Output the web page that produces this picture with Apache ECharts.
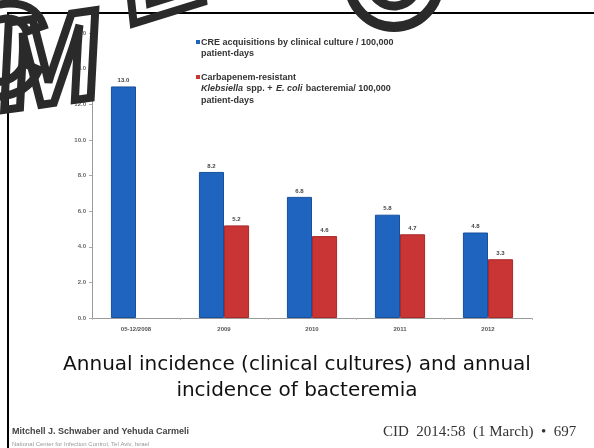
<!DOCTYPE html>
<html>
<head>
<meta charset="utf-8">
<style>
  html, body { margin: 0; padding: 0; background: #ffffff; }
  #chart { width: 594px; height: 448px; }
</style>
<script src="https://cdn.jsdelivr.net/npm/echarts@6/dist/echarts.min.js"></script>
</head>
<body>
<div id="chart"></div>
<script>
// Incidence per 100,000 patient-days
const categories = ['05-12/2008', '2009', '2010', '2011', '2012'];
const cultureAcquisitions = [13.0, 8.2, 6.8, 5.8, 4.8];
const bacteremia = [null, 5.2, 4.6, 4.7, 3.3];
const yTicks = [0, 2, 4, 6, 8, 10, 12, 14, 16];

const BLUE = '#1f64bf';
const RED = '#c93434';

const chart = echarts.init(document.getElementById('chart'), null, { renderer: 'canvas' });

const valueLabel = {
  show: true,
  position: 'top',
  distance: 3,
  fontSize: 6,
  fontWeight: 'bold',
  color: '#444',
  fontFamily: 'Liberation Sans',
  formatter: p => (p.value == null ? '' : Number(p.value).toFixed(1))
};

// outlined watermark glyph
const mark = (ch, x, y, size, rot) => ({
  type: 'text', x, y, rotation: rot, z: 20,
  style: {
    text: ch,
    font: 'italic bold ' + size + 'px "Liberation Sans"',
    verticalAlign: 'bottom',
    fill: 'rgba(255,255,255,0)', stroke: '#2a2a2a', lineWidth: 8
  }
});

chart.setOption({
  animation: false,
  backgroundColor: '#ffffff',
  grid: { left: 92, right: 62, top: 33, bottom: 130 },
  xAxis: {
    type: 'category',
    data: categories,
    axisLine: { lineStyle: { color: '#9a9a9a', width: 1 } },
    axisTick: { show: true, alignWithLabel: false, length: 2, lineStyle: { color: '#bbb' } },
    axisLabel: { fontSize: 6, fontWeight: 'bold', color: '#555', margin: 8, fontFamily: 'Liberation Sans' }
  },
  yAxis: {
    type: 'value',
    min: yTicks[0],
    max: yTicks[yTicks.length - 1],
    interval: 2,
    axisLine: { show: true, lineStyle: { color: '#9a9a9a', width: 1 } },
    axisTick: { show: true, length: 3, lineStyle: { color: '#aaa' } },
    splitLine: { show: false },
    axisLabel: {
      fontSize: 6, fontWeight: 'bold', color: '#666', margin: 6, fontFamily: 'Liberation Sans',
      formatter: v => v.toFixed(1)
    }
  },
  series: [
    {
      name: 'CRE acquisitions by clinical culture / 100,000 patient-days',
      type: 'bar',
      data: cultureAcquisitions,
      barGap: '0%',
      barCategoryGap: '43%',
      itemStyle: { color: BLUE, borderColor: '#17509c', borderWidth: 1 },
      label: valueLabel
    },
    {
      name: 'Carbapenem-resistant Klebsiella spp. + E. coli bacteremia/ 100,000 patient-days',
      type: 'bar',
      data: bacteremia,
      itemStyle: { color: RED, borderColor: '#a82a2a', borderWidth: 1 },
      label: valueLabel
    }
  ],
  graphic: [
    // slide frame
    { type: 'line', shape: { x1: 7, y1: 13, x2: 594, y2: 13 }, style: { stroke: '#000', lineWidth: 2 }, z: 10 },
    { type: 'line', shape: { x1: 8, y1: 13, x2: 8, y2: 448 }, style: { stroke: '#000', lineWidth: 2 }, z: 10 },

    // legend
    { type: 'rect', shape: { x: 196, y: 40, width: 4, height: 4 }, style: { fill: BLUE } },
    {
      type: 'text', x: 201, y: 37,
      style: {
        text: 'CRE acquisitions by clinical culture / 100,000\npatient-days',
        font: 'bold 9px "Liberation Sans"', fill: '#333', lineHeight: 11
      }
    },
    { type: 'rect', shape: { x: 196, y: 75, width: 4, height: 4 }, style: { fill: RED } },
    {
      type: 'text', x: 201, y: 72,
      style: {
        text: '{n|Carbapenem-resistant}\n{i|Klebsiella} {n|spp. +} {i|E. coli} {n|bacteremia/ 100,000}\n{n|patient-days}',
        rich: {
          n: { font: 'bold 9px "Liberation Sans"', fill: '#333', lineHeight: 11 },
          i: { font: 'italic bold 9px "Liberation Sans"', fill: '#333', lineHeight: 11 }
        }
      }
    },

    // caption
    {
      type: 'text', x: 297, y: 352,
      style: {
        text: 'Annual incidence (clinical cultures) and annual\nincidence of bacteremia',
        font: '20px "DejaVu Sans"', fill: '#111', lineHeight: 26,
        align: 'center', verticalAlign: 'top'
      }
    },

    // footer
    {
      type: 'text', x: 12, y: 427,
      style: { text: 'Mitchell J. Schwaber and Yehuda Carmeli', font: 'bold 9px "Liberation Sans"', fill: '#444' }
    },
    {
      type: 'text', x: 12, y: 441,
      style: { text: 'National Center for Infection Control, Tel Aviv, Israel', font: '6px "Liberation Sans"', fill: '#999' }
    },
    {
      type: 'text', x: 383, y: 425,
      style: { text: 'CID  2014:58  (1 March)  \u2022  697', font: '15px "Liberation Serif"', fill: '#333' }
    },

    // watermark
    mark('C', -44, 128, 130, 0.08),
    mark('M', 6, 138, 125, 0.14),
    mark('E', 140, 52, 130, 0.3),
    {
      type: 'circle', shape: { cx: 394, cy: -18, r: 45 },
      style: { fill: 'none', stroke: '#2a2a2a', lineWidth: 10 }, z: 20
    },
    {
      type: 'arc', shape: { cx: 394, cy: -18, r: 24, startAngle: 0.7, endAngle: 5.6, clockwise: true },
      style: { fill: 'none', stroke: '#2a2a2a', lineWidth: 9 }, z: 20
    }
  ]
});
</script>
</body>
</html>
